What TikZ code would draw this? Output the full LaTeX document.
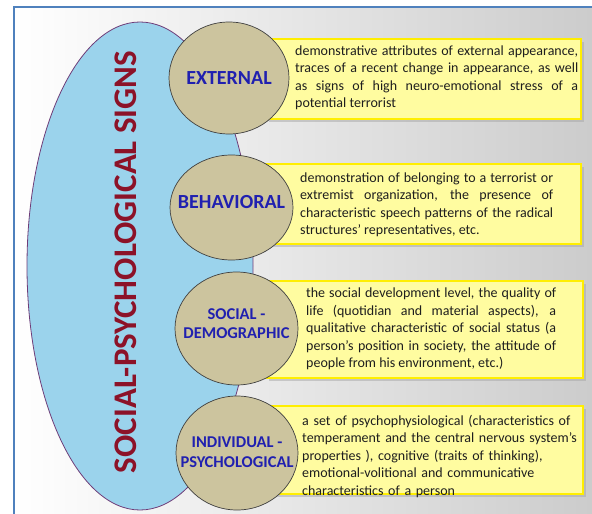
\documentclass[tikz,border=0pt]{standalone}
\usepackage{fontspec}
\setmainfont{Carlito}
\usetikzlibrary{shapes.geometric,shadows}
\definecolor{framec}{RGB}{79,129,189}
\definecolor{bigblue}{RGB}{155,211,236}
\definecolor{bigline}{RGB}{110,60,120}
\definecolor{tanfill}{RGB}{204,196,158}
\definecolor{tanline}{RGB}{64,64,64}
\definecolor{yfill}{RGB}{255,252,160}
\definecolor{yline}{RGB}{255,238,0}
\definecolor{lblue}{RGB}{32,32,176}
\definecolor{tred}{RGB}{140,18,40}
\definecolor{txt}{RGB}{30,30,30}
\tikzset{
  ybox/.style={draw=yline, line width=1.6pt, fill=yfill, anchor=north west, inner sep=0pt,
     drop shadow={shadow xshift=3pt, shadow yshift=-3pt, fill=black!35, opacity=0.5}},
  tanc/.style={ellipse, draw=tanline, line width=0.7pt, fill=tanfill, inner sep=0pt},
  lbl/.style={text=lblue, font=\bfseries\fontsize{20}{22}\selectfont, align=center, inner sep=0pt},
  lbl2/.style={lbl, font=\bfseries\fontsize{16.5}{19.5}\selectfont},
  desc/.style={anchor=north west, inner sep=0pt, text=txt, font=\fontsize{14}{17.5}\selectfont}
}
\begin{document}
\begin{tikzpicture}[x=1pt,y=-1pt]
\useasboundingbox (0,0) rectangle (592,514);
\fill[white] (0,0) rectangle (592,514);
\shade[left color=white, middle color=gray!12, right color=gray!40] (14,7) rectangle (592,514);
\draw[framec, line width=1.5pt] (14,514) -- (14,7) -- (592,7);

% big ellipse
\node[ellipse, draw=bigline, line width=0.8pt, fill=bigblue, minimum width=226pt, minimum height=488pt, inner sep=0pt] (big) at (140,266) {};
\node[rotate=90, text=tred, font=\bfseries\fontsize{33}{36}\selectfont, inner sep=0pt] (title) at (126,262) {SOCIAL-PSYCHOLOGICAL SIGNS};

% yellow boxes
\node[ybox, minimum width=315pt, minimum height=80pt] (b1) at (265,38) {};
\node[ybox, minimum width=320pt, minimum height=80pt] (b2) at (260,163) {};
\node[ybox, minimum width=317pt, minimum height=97pt] (b3) at (265,280) {};
\node[ybox, minimum width=317pt, minimum height=88pt] (b4) at (265,405) {};

% circles
\node[tanc, minimum width=120pt, minimum height=112pt] (c1) at (229,78) {};
\node[tanc, minimum width=123pt, minimum height=105pt] (c2) at (231.5,207.5) {};
\node[tanc, minimum width=123pt, minimum height=113pt] (c3) at (236.5,328.5) {};
\node[tanc, minimum width=122pt, minimum height=114pt] (c4) at (237,453) {};
\node[lbl] (l1) at (c1.center) {EXTERNAL};
\node[lbl, yshift=5pt] (l2) at (c2.center) {BEHAVIORAL};
\node[lbl2, yshift=5pt] (l3) at (c3.center) {SOCIAL -\\DEMOGRAPHIC};
\node[lbl2, yshift=1pt] (l4) at (c4.center) {INDIVIDUAL -\\PSYCHOLOGICAL};

% texts
\node[desc, text width=283pt, align=justify] (t1) at (295,45.5) {demonstrative attributes of external appearance,\linebreak traces of a recent change in appearance, as well\linebreak as signs of high neuro-emotional stress of a\linebreak potential terrorist};
\node[desc, text width=253pt, align=justify] (t2) at (300,172.5) {demonstration of belonging to a terrorist or\linebreak extremist organization, the presence of\linebreak characteristic speech patterns of the radical\linebreak structures' representatives, etc.};
\node[desc, text width=250pt, align=justify] (t3) at (306,288) {the social development level, the quality of\linebreak life (quotidian and material aspects), a\linebreak qualitative characteristic of social status (a\linebreak person's position in society, the attitude of\linebreak people from his environment, etc.)};
\node[desc, text width=280pt, align=left] (t4) at (302,415) {a set of psychophysiological (characteristics of\\ temperament and the central nervous system's\\ properties ), cognitive (traits of thinking),\\ emotional-volitional and communicative\\ characteristics of a person};
\end{tikzpicture}
\end{document}
